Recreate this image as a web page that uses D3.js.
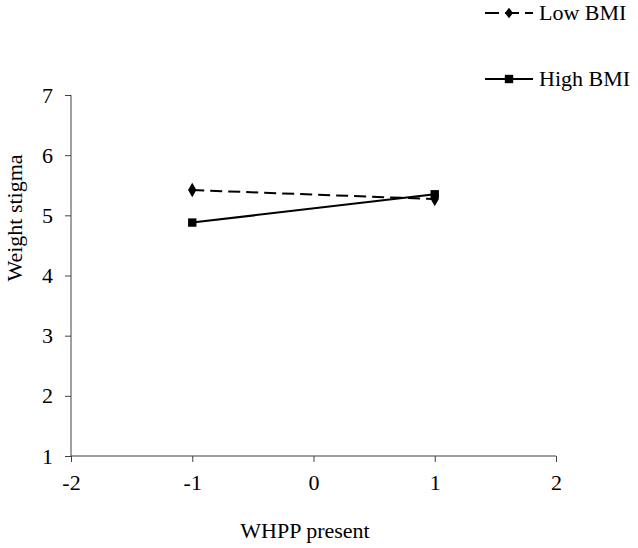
<!DOCTYPE html>
<html><head><meta charset="utf-8">
<script src="https://cdn.jsdelivr.net/npm/d3@7"></script>
<style>body{margin:0;background:#fff}svg{display:block}</style>
</head><body><svg id="c" width="638" height="548"></svg>
<script>
const xTicks = [-2, -1, 0, 1, 2];
const yTicks = [1, 2, 3, 4, 5, 6, 7];
const xValues = [-1, 1];
const lowBMI = [5.42, 5.27];
const highBMI = [4.88, 5.35];
const seriesNames = ["Low BMI", "High BMI"];

const FONT = '"Liberation Serif", Tinos, "Times New Roman", Times, "DejaVu Serif", serif';
const svg = d3.select("#c");
const x = d3.scaleLinear().domain([-2, 2]).range([71, 556]);
const y = d3.scaleLinear().domain([1, 7]).range([456, 95]);
const fs = 22;

const yAxis = svg.append("g").attr("transform", "translate(71,0)")
  .call(d3.axisLeft(y).tickValues(yTicks).tickSize(6).tickPadding(12).tickFormat(d => String(d)));
const xAxis = svg.append("g").attr("transform", "translate(0,456)")
  .call(d3.axisBottom(x).tickValues(xTicks).tickSize(6).tickPadding(12).tickFormat(d => String(d)));
[yAxis, xAxis].forEach(g => {
  g.attr("font-family", null).attr("font-size", null);
  g.select(".domain").attr("stroke", "#404040");
  g.selectAll(".tick line").attr("stroke", "#404040");
  g.selectAll("text").style("font-size", fs + "px").attr("fill", "#000").style("font-family", FONT);
});
yAxis.select(".domain").attr("d", `M0,${y(7)}V${y(1)}`);
xAxis.select(".domain").attr("d", `M${x(-2)},0H${x(2)}`);

function label(sel) { return sel.style("font-size", fs + "px").style("font-family", FONT).attr("fill", "#000"); }

label(svg.append("text").attr("x", 305).attr("y", 538).attr("text-anchor", "middle")).text("WHPP present");
label(svg.append("text").attr("transform", "translate(22,218) rotate(-90)").attr("text-anchor", "middle")).text("Weight stigma");

const line = d3.line().x((d, i) => x(xValues[i])).y(d => y(d));
svg.append("path").attr("d", line(lowBMI)).attr("fill", "none").attr("stroke", "#000")
  .attr("stroke-width", 2).attr("stroke-dasharray", "12,6");
svg.append("path").attr("d", line(highBMI)).attr("fill", "none").attr("stroke", "#000")
  .attr("stroke-width", 2);

const diamond = d3.symbol().type(d3.symbolDiamond).size(60);
const square = d3.symbol().type(d3.symbolSquare).size(70);
svg.selectAll(".lowpt").data(lowBMI).join("path")
  .attr("transform", (d, i) => `translate(${x(xValues[i])},${y(d)})`)
  .attr("d", diamond).attr("fill", "#000");
svg.selectAll(".highpt").data(highBMI).join("path")
  .attr("transform", (d, i) => `translate(${x(xValues[i])},${y(d)})`)
  .attr("d", square).attr("fill", "#000");

// legend
const leg = svg.append("g");
const ly = [13, 79];
leg.append("path").attr("d", `M485,${ly[0]}H533`).attr("stroke", "#000").attr("stroke-width", 2)
  .attr("stroke-dasharray", "14,6");
leg.append("path").attr("transform", `translate(509,${ly[0]}) scale(1.2,0.9)`)
  .attr("d", d3.symbol().type(d3.symbolDiamond).size(40)).attr("fill", "#000");
leg.append("path").attr("d", `M485,${ly[1]}H533`).attr("stroke", "#000").attr("stroke-width", 2);
leg.append("path").attr("transform", `translate(509,${ly[1]})`).attr("d", square).attr("fill", "#000");
seriesNames.forEach((n, i) => {
  label(leg.append("text").attr("x", 539).attr("y", ly[i] + 7)).text(n);
});
</script></body></html>
